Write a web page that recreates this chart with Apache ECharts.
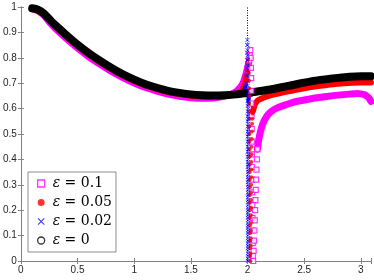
<!DOCTYPE html>
<html>
<head>
<meta charset="utf-8">
<script src="https://cdn.jsdelivr.net/npm/echarts@6/dist/echarts.min.js"></script>
<style>html,body{margin:0;padding:0;background:#fff}#c{width:374px;height:280px}</style>
</head>
<body>
<div id="c"></div>
<script>
const xTickLabels = [0, 0.5, 1, 1.5, 2, 2.5, 3];
const yTickLabels = [0, 0.1, 0.2, 0.3, 0.4, 0.5, 0.6, 0.7, 0.8, 0.9, 1];
const legendNames = ['ε = 0.1', 'ε = 0.05', 'ε = 0.02', 'ε = 0'];

// eps = 0 (black)
const eps0X = [0.1,0.15,0.2,0.27,0.3,0.4,0.5,0.6,0.7,0.8,0.9,1.0,1.1,1.2,1.3,1.4,1.5,1.6,1.7,1.8,1.9,2.0,2.1,2.2,2.3,2.4,2.5,2.6,2.7,2.8,2.9,3.0,3.09];
const eps0Y = [0.995,0.99,0.975,0.943,0.93,0.89,0.852,0.818,0.788,0.76,0.735,0.714,0.696,0.682,0.67,0.662,0.656,0.653,0.652,0.653,0.656,0.662,0.668,0.675,0.684,0.693,0.702,0.71,0.716,0.721,0.725,0.727,0.727];

// eps = 0.1 (magenta)
const eps01LeftX = [0.1,0.15,0.2,0.27,0.3,0.4,0.5,0.6,0.7,0.8,0.9,1.0,1.1,1.2,1.3,1.4,1.5,1.6,1.7,1.8,1.85,1.9,1.93,1.96,1.98,2.0,2.008];
const eps01LeftY = [0.993,0.985,0.968,0.932,0.917,0.876,0.838,0.804,0.774,0.746,0.722,0.701,0.683,0.669,0.657,0.648,0.643,0.641,0.642,0.649,0.656,0.667,0.68,0.70,0.725,0.76,0.775];
const eps01Steep = [[2.008,0.775],[2.015,0.79],[2.02,0.81],[2.025,0.83],[2.028,0.80],[2.03,0.76],[2.032,0.72],[2.034,0.67],[2.035,0.62],[2.036,0.57],[2.037,0.52],[2.038,0.47],[2.039,0.42],[2.04,0.37],[2.041,0.32],[2.042,0.27],[2.043,0.22],[2.044,0.17],[2.045,0.12],[2.046,0.07],[2.047,0.02],[2.05,0.0],[2.054,0.04],[2.058,0.08],[2.061,0.12],[2.064,0.16],[2.067,0.2],[2.07,0.24],[2.073,0.28],[2.076,0.32],[2.079,0.36],[2.083,0.40],[2.088,0.44]];
const eps01RightX = [2.088,2.1,2.126,2.15,2.18,2.22,2.27,2.35,2.42,2.5,2.56,2.65,2.7,2.8,2.9,2.97,3.0,3.03,3.05,3.07,3.09];
const eps01RightY = [0.44,0.48,0.529,0.555,0.576,0.592,0.604,0.617,0.627,0.634,0.639,0.645,0.648,0.653,0.657,0.659,0.658,0.655,0.65,0.643,0.628];

// eps = 0.05 (red)
const eps005LeftX = [0.1,0.2,0.3,0.4,0.5,0.6,0.7,0.8,0.9,1.0,1.1,1.2,1.3,1.4,1.5,1.6,1.7,1.8,1.85,1.9,1.93,1.95,1.97,1.98,1.99];
const eps005LeftY = [0.994,0.971,0.926,0.885,0.847,0.813,0.783,0.755,0.73,0.709,0.691,0.677,0.665,0.657,0.651,0.648,0.648,0.65,0.653,0.658,0.664,0.672,0.688,0.70,0.725];
const eps005Steep = [[1.995,0.75],[2.0,0.775],[2.005,0.795],[2.009,0.77],[2.012,0.74],[2.013,0.71],[2.014,0.68],[2.015,0.65],[2.015,0.62],[2.016,0.59],[2.016,0.56],[2.017,0.53],[2.017,0.50],[2.018,0.47],[2.018,0.44],[2.019,0.41],[2.019,0.38],[2.02,0.35],[2.02,0.32],[2.021,0.29],[2.021,0.26],[2.021,0.23],[2.022,0.20],[2.022,0.17],[2.022,0.14],[2.023,0.11],[2.023,0.08],[2.023,0.05],[2.024,0.02],[2.026,0.0],[2.027,0.03],[2.028,0.06],[2.028,0.09],[2.029,0.12],[2.03,0.15],[2.03,0.18],[2.031,0.21],[2.031,0.24],[2.032,0.27],[2.032,0.30],[2.033,0.33],[2.034,0.36],[2.034,0.39],[2.035,0.42],[2.036,0.45],[2.037,0.48],[2.038,0.51],[2.04,0.54],[2.042,0.56],[2.045,0.58],[2.048,0.59]];
const eps005RightX = [2.048,2.06,2.07,2.09,2.12,2.18,2.27,2.4,2.56,2.7,2.85,3.0,3.09];
const eps005RightY = [0.59,0.61,0.62,0.632,0.639,0.649,0.659,0.671,0.685,0.693,0.70,0.703,0.703];

// eps = 0.02 (blue)
const eps002LeftX = [0.1,0.2,0.3,0.4,0.5,0.6,0.7,0.8,0.9,1.0,1.1,1.2,1.3,1.4,1.5,1.6,1.7,1.8,1.9,1.95,1.97,1.98];
const eps002LeftY = [0.995,0.974,0.928,0.888,0.85,0.816,0.786,0.758,0.733,0.712,0.694,0.68,0.668,0.66,0.654,0.651,0.65,0.651,0.655,0.662,0.672,0.685];
const eps002Steep = [[1.985,0.70],[1.99,0.73],[1.993,0.76],[1.995,0.79],[1.997,0.82],[1.998,0.85],[1.999,0.87],[2.0,0.85],[2.0,0.83],[2.001,0.81],[2.001,0.79],[2.001,0.77],[2.001,0.75],[2.001,0.73],[2.001,0.71],[2.002,0.69],[2.002,0.67],[2.002,0.65],[2.002,0.63],[2.002,0.61],[2.002,0.59],[2.002,0.57],[2.002,0.55],[2.002,0.53],[2.002,0.51],[2.002,0.49],[2.002,0.47],[2.002,0.45],[2.002,0.43],[2.002,0.41],[2.003,0.39],[2.003,0.37],[2.003,0.35],[2.003,0.33],[2.003,0.31],[2.003,0.29],[2.003,0.27],[2.003,0.25],[2.003,0.23],[2.003,0.21],[2.003,0.19],[2.003,0.17],[2.003,0.15],[2.003,0.13],[2.003,0.11],[2.003,0.09],[2.003,0.07],[2.003,0.05],[2.003,0.03],[2.003,0.01],[2.004,0.0],[2.005,0.02],[2.005,0.04],[2.005,0.06],[2.005,0.08],[2.005,0.10],[2.005,0.12],[2.005,0.14],[2.005,0.16],[2.005,0.18],[2.005,0.20],[2.005,0.22],[2.005,0.24],[2.005,0.26],[2.005,0.28],[2.005,0.30],[2.006,0.32],[2.006,0.34],[2.006,0.36],[2.006,0.38],[2.006,0.40],[2.006,0.42],[2.006,0.44],[2.006,0.46],[2.006,0.48],[2.006,0.50],[2.007,0.52],[2.007,0.54],[2.007,0.56],[2.007,0.58],[2.007,0.60],[2.008,0.62],[2.008,0.63]];
const eps002RightX = [2.008,2.012,2.02,2.05,2.1,2.2,2.3,2.4,2.5,2.6,2.7,2.8,2.9,3.0,3.09];
const eps002RightY = [0.63,0.645,0.652,0.657,0.663,0.671,0.68,0.689,0.698,0.706,0.712,0.717,0.721,0.723,0.723];

// dotted vertical reference at x = 2
const dottedX = [2, 2];
const dottedY = [0, 1];

const zip = (xs, ys) => xs.map((x, i) => [x, ys[i]]);
const xPath = 'path://M0,1L1,0L5,4L9,0L10,1L6,5L10,9L9,10L5,6L1,10L0,9L4,5Z';
const MAG = '#ff00ff', RED = '#ff0000', BLUE = '#0000ff', BLK = '#000000';
const AX = '#808080';

function lineS(name, data, color, width) {
  return { type: 'line', name, data, showSymbol: false, symbol: 'none', smooth: 0.3,
    lineStyle: { color, width, cap: 'round', join: 'round' }, itemStyle: { color },
    silent: true, z: 2 };
}
function scatS(name, data, symbol, size, style) {
  return { type: 'scatter', name, data, symbol, symbolSize: size, itemStyle: style, silent: true, z: 2 };
}

const chart = echarts.init(document.getElementById('c'), null, { renderer: 'canvas' });
const tickFmtX = v => xTickLabels.some(t => Math.abs(t - v) < 1e-6) ? String(v) : '';
const tickFmtY = v => yTickLabels.some(t => Math.abs(t - v) < 1e-6) ? String(+v.toFixed(1)) : '';
const axisCommon = {
  axisLine: { show: true, lineStyle: { color: AX, width: 1 } },
  axisTick: { show: true, inside: true, length: 3, lineStyle: { color: AX } },
  splitLine: { show: false }
};
chart.setOption({
  animation: false,
  backgroundColor: '#fff',
  grid: { left: 19, right: 2, top: 7, bottom: 19, containLabel: false },
  xAxis: [
    Object.assign({ type: 'value', min: 0, max: 3.09, interval: 0.5, position: 'bottom',
      axisLabel: { formatter: tickFmtX, color: '#262626', fontSize: 10, fontFamily: 'Liberation Sans', margin: 4 } }, axisCommon),
    Object.assign({ type: 'value', min: 0, max: 3.09, interval: 0.5, position: 'top',
      axisLabel: { show: false } }, axisCommon)
  ],
  yAxis: [
    Object.assign({ type: 'value', min: 0, max: 1, interval: 0.1, position: 'left',
      axisLabel: { formatter: tickFmtY, color: '#262626', fontSize: 10, fontFamily: 'Liberation Sans', margin: 4 } }, axisCommon),
    Object.assign({ type: 'value', min: 0, max: 1, interval: 0.1, position: 'right',
      axisLabel: { show: false } }, axisCommon)
  ],
  legend: {
    orient: 'vertical', left: 28, top: 172,
    padding: [4, 4, 4, 9], itemGap: 4, itemWidth: 7, itemHeight: 7,
    borderColor: '#8c8c8c', borderWidth: 1, backgroundColor: '#fff', borderRadius: 0,
    selectedMode: false,
    textStyle: { fontFamily: 'DejaVu Serif', fontSize: 14, color: '#000', lineHeight: 15, padding: [0, 0, 0, 3],
      rich: { e: { fontFamily: 'DejaVu Serif', fontStyle: 'italic', fontSize: 14, lineHeight: 15 } } },
    formatter: n => '{e|ε}' + n.slice(1),
    data: [
      { name: legendNames[0], icon: 'rect', itemStyle: { color: '#fff', borderColor: MAG, borderWidth: 1.3 } },
      { name: legendNames[1], icon: 'circle', itemStyle: { color: RED, borderWidth: 0 } },
      { name: legendNames[2], icon: xPath, itemStyle: { color: BLUE, borderWidth: 0 } },
      { name: legendNames[3], icon: 'circle', itemStyle: { color: '#fff', borderColor: BLK, borderWidth: 1.3 } }
    ]
  },
  series: [
    { type: 'line', name: 'dotted', data: zip(dottedX, dottedY), symbol: 'none', silent: true, z: 1,
      lineStyle: { color: BLK, width: 1, type: [1, 1.5] } },
    scatS(legendNames[0], eps01Steep, 'rect', 5, { color: '#fff', borderColor: MAG, borderWidth: 1.2 }),
    lineS(legendNames[0], zip(eps01LeftX, eps01LeftY), MAG, 7),
    lineS(legendNames[0], zip(eps01RightX, eps01RightY), MAG, 7),
    scatS(legendNames[1], eps005Steep, 'circle', 4, { color: RED }),
    lineS(legendNames[1], zip(eps005LeftX, eps005LeftY), RED, 6),
    lineS(legendNames[1], zip(eps005RightX, eps005RightY), RED, 6),
    scatS(legendNames[2], eps002Steep, xPath, 4.5, { color: BLUE }),
    lineS(legendNames[2], zip(eps002LeftX, eps002LeftY), BLUE, 4),
    lineS(legendNames[2], zip(eps002RightX, eps002RightY), BLUE, 4),
    { type: 'scatter', name: legendNames[3], data: [], symbol: 'circle', itemStyle: { color: '#fff', borderColor: BLK, borderWidth: 1.3 } },
    lineS(legendNames[3], zip(eps0X, eps0Y), BLK, 8)
  ]
});
</script>
</body>
</html>
